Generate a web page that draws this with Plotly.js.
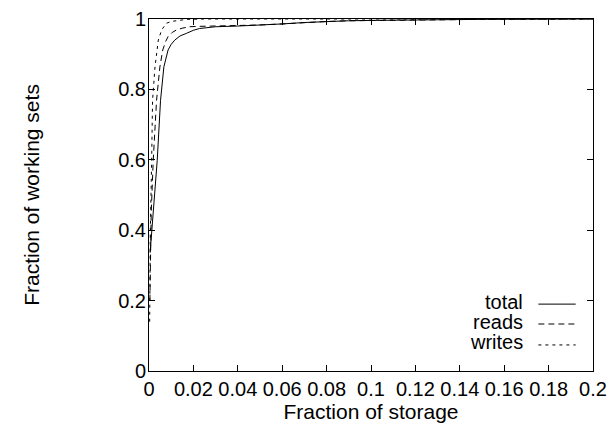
<!DOCTYPE html>
<html>
<head>
<meta charset="utf-8">
<script src="https://cdn.plot.ly/plotly-3.0.1.min.js"></script>
<style>html,body{margin:0;padding:0;background:#fff;}#chart{width:607px;height:425px;}</style>
</head>
<body>
<div id="chart"></div>
<script>
// Series (fraction of storage vs fraction of working sets)
const totalX = [0.0005, 0.0012, 0.0022, 0.0037, 0.0052, 0.0067, 0.0086, 0.0100, 0.0116, 0.0140, 0.0168, 0.0200, 0.0228, 0.0260, 0.030, 0.040, 0.050, 0.060, 0.070, 0.080, 0.090, 0.100, 0.120, 0.150, 0.200];
const totalY = [0.336, 0.399, 0.484, 0.598, 0.769, 0.864, 0.912, 0.928, 0.940, 0.952, 0.959, 0.968, 0.973, 0.976, 0.978, 0.980, 0.982, 0.986, 0.990, 0.993, 0.995, 0.996, 0.998, 0.999, 1.000];

const readsX = [0.0004, 0.0006, 0.0010, 0.0019, 0.0034, 0.0049, 0.0062, 0.0075, 0.0086, 0.0105, 0.0124, 0.0150, 0.0183, 0.0220, 0.030, 0.040, 0.050, 0.060, 0.070, 0.080, 0.090, 0.100, 0.120, 0.150, 0.200];
const readsY = [0.200, 0.300, 0.450, 0.598, 0.769, 0.864, 0.912, 0.936, 0.950, 0.962, 0.969, 0.974, 0.978, 0.979, 0.980, 0.981, 0.983, 0.986, 0.990, 0.993, 0.995, 0.996, 0.998, 0.999, 1.000];

const writesX = [0.0003, 0.0006, 0.0012, 0.0016, 0.0027, 0.0042, 0.0057, 0.0079, 0.0100, 0.0124, 0.0170, 0.0250, 0.200];
const writesY = [0.140, 0.400, 0.598, 0.769, 0.864, 0.940, 0.969, 0.988, 0.993, 0.995, 0.999, 1.000, 1.000];

const xTickVals = [0, 0.02, 0.04, 0.06, 0.08, 0.1, 0.12, 0.14, 0.16, 0.18, 0.2];
const xTickText = ['0', '0.02', '0.04', '0.06', '0.08', '0.1', '0.12', '0.14', '0.16', '0.18', '0.2'];
const yTickVals = [0, 0.2, 0.4, 0.6, 0.8, 1];
const yTickText = ['0', '0.2', '0.4', '0.6', '0.8', '1'];

const seriesNames = ['total', 'reads', 'writes'];
const seriesDash = ['solid', '6px,4px', '3px,4px'];

const FAMILY = '"Liberation Sans", Arial, Helvetica, sans-serif';
const FONT = {family: FAMILY, size: 20, color: '#000'};
const TITLE_FONT = {family: FAMILY, size: 21, color: '#000'};

const traces = [
  {x: totalX, y: totalY, name: seriesNames[0], mode: 'lines', line: {color: '#000', width: 1, dash: seriesDash[0]}},
  {x: readsX, y: readsY, name: seriesNames[1], mode: 'lines', line: {color: '#000', width: 1, dash: seriesDash[1]}},
  {x: writesX, y: writesY, name: seriesNames[2], mode: 'lines', line: {color: '#000', width: 1, dash: seriesDash[2]}}
];

// Manual gnuplot-style legend: right-aligned text with line sample on its right
const legendTextY = [0.197, 0.139, 0.081];
const legendLineY = [0.190, 0.1335, 0.074];
const annotations = seriesNames.map((n, i) => ({
  xref: 'paper', yref: 'paper', x: 0.846, y: legendTextY[i],
  xanchor: 'right', yanchor: 'middle', text: n, showarrow: false, font: FONT
}));
const shapes = seriesNames.map((n, i) => ({
  type: 'line', xref: 'paper', yref: 'paper',
  x0: 0.877, x1: 0.961, y0: legendLineY[i], y1: legendLineY[i],
  line: {color: '#000', width: 1, dash: seriesDash[i]}
}));

const layout = {
  width: 607, height: 425,
  margin: {l: 149, r: 14, t: 19, b: 54, pad: 0},
  paper_bgcolor: '#fff', plot_bgcolor: '#fff',
  font: FONT,
  showlegend: false,
  xaxis: {
    range: [0, 0.2], tickmode: 'array', tickvals: xTickVals, ticktext: xTickText,
    ticks: 'inside', ticklen: 6, tickcolor: '#000', tickwidth: 1,
    showline: true, linecolor: '#000', linewidth: 1, mirror: 'allticks',
    showgrid: false, zeroline: false, tickfont: FONT, ticklabeloverflow: 'allow',
    title: {text: 'Fraction of storage', font: TITLE_FONT, standoff: 2}
  },
  yaxis: {
    range: [0, 1], tickmode: 'array', tickvals: yTickVals, ticktext: yTickText,
    ticks: 'inside', ticklen: 6, tickcolor: '#000', tickwidth: 1,
    showline: true, linecolor: '#000', linewidth: 1, mirror: 'allticks',
    showgrid: false, zeroline: false, tickfont: FONT, ticklabelstandoff: -2,
    title: {text: 'Fraction of working sets', font: TITLE_FONT, standoff: 72}
  },
  annotations: annotations,
  shapes: shapes
};

Plotly.newPlot('chart', traces, layout, {staticPlot: true, displayModeBar: false});
</script>
</body>
</html>
